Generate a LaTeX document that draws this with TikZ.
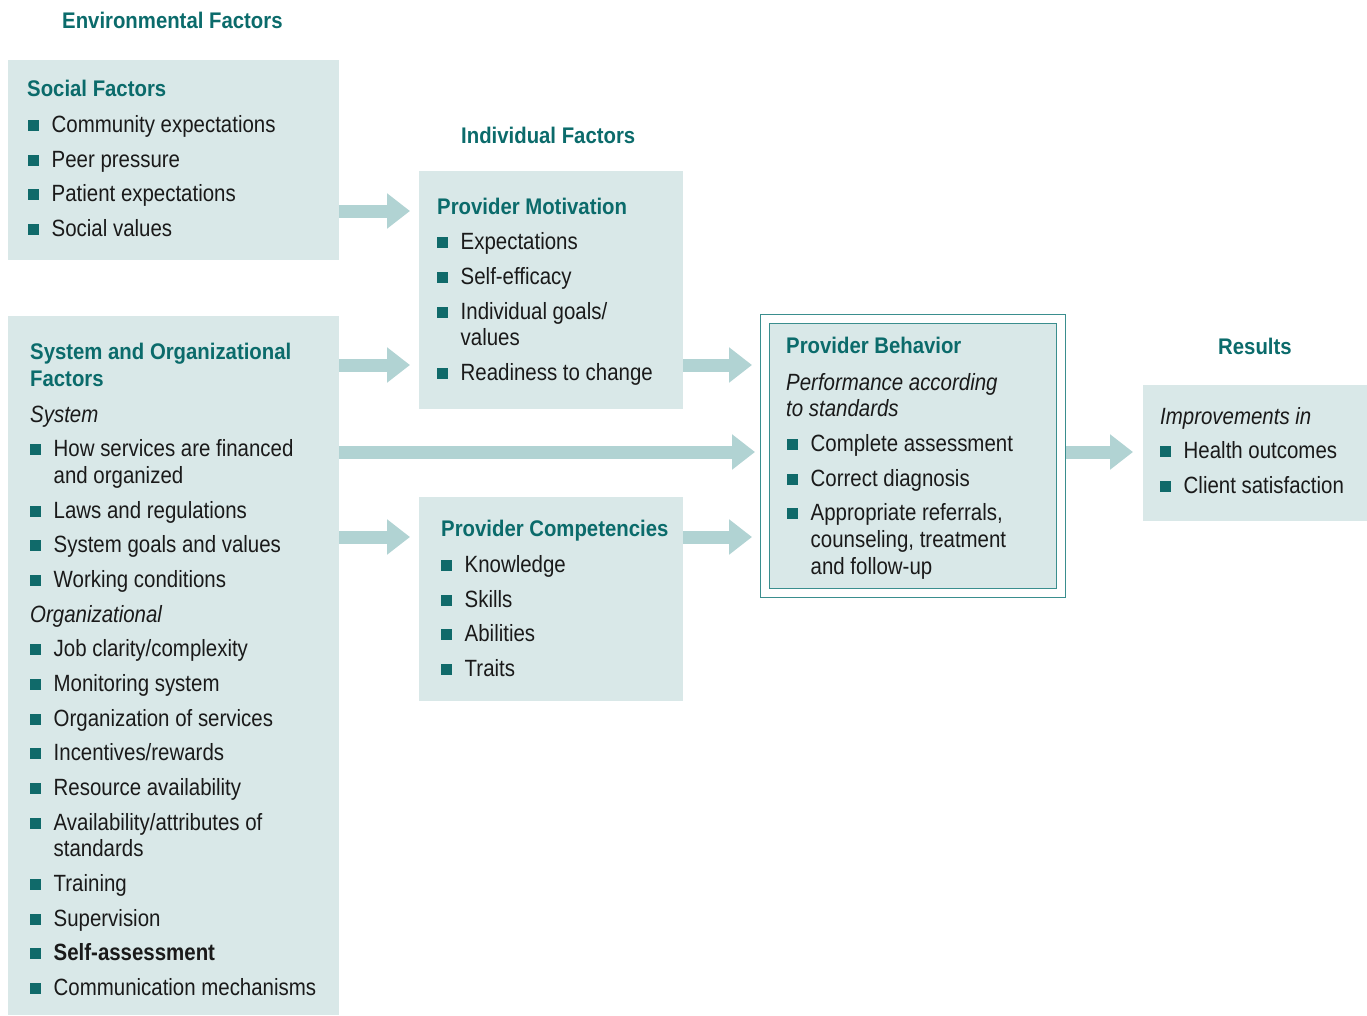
\documentclass[tikz,border=0pt]{standalone}
\usepackage{fontspec}
\setmainfont{Liberation Sans}[FakeStretch=0.87]
\newfontfamily\hdfont{Liberation Sans}[FakeStretch=0.9]
\usetikzlibrary{arrows.meta}
\definecolor{boxfill}{HTML}{D9E8E8}
\definecolor{headc}{HTML}{0B6B6B}
\definecolor{bulc}{HTML}{106A6A}
\definecolor{arrc}{HTML}{B1D3D3}
\definecolor{bordc}{HTML}{3A8E8E}
\definecolor{txtc}{HTML}{1A1A1A}
\tikzset{
 panel/.style={fill=boxfill, draw=none, inner sep=0pt, anchor=north west},
 sq/.style={fill=bulc, minimum size=11pt, inner sep=0pt, anchor=south west},
 txt/.style={inner sep=0pt, anchor=base west, yshift=1pt, text=txtc, font=\fontsize{23.5}{26.5}\selectfont},
 itx/.style={txt, font=\fontsize{23.5}{26.5}\selectfont\itshape},
 hd/.style={inner sep=0pt, anchor=base west, yshift=0.5pt, text=headc, font=\hdfont\bfseries\fontsize{22.6}{26.5}\selectfont},
 fat/.style={draw=arrc, line width=13pt, -{Triangle[length=23pt,width=34pt]}},
}
\newcommand\bitem[4]{\node[sq] (#1q) at (#2,{#3-2}) {}; \node[txt] (#1) at ({#2+23.5},#3) {#4};}
\begin{document}
\begin{tikzpicture}[x=1pt,y=-1pt]
\useasboundingbox (0,0) rectangle (1367,1015);
% panels
\node[panel, minimum width=331pt, minimum height=200pt] (social) at (8,60) {};
\node[panel, minimum width=331pt, minimum height=699pt] (system) at (8,316) {};
\node[panel, minimum width=264pt, minimum height=238pt] (motiv) at (419,171) {};
\node[panel, minimum width=264pt, minimum height=204pt] (comp) at (419,497) {};
\node[panel, fill=white, draw=bordc, line width=1.3pt, minimum width=305pt, minimum height=283pt] (behout) at (760,314) {};
\node[panel, draw=bordc, line width=1.3pt, minimum width=287pt, minimum height=265pt] (behin) at (769,323) {};
\node[panel, minimum width=224pt, minimum height=136pt] (results) at (1143,385) {};
% arrows
\coordinate (a1) at (410,211);
\coordinate (a2) at (410,365);
\coordinate (a3) at (755,452);
\coordinate (a4) at (410,537);
\coordinate (a5) at (752,365);
\coordinate (a6) at (752,537);
\coordinate (a7) at (1133,452);
\draw[fat] (social.east |- a1) -- (a1);
\draw[fat] (system.east |- a2) -- (a2);
\draw[fat] (system.east |- a3) -- (a3);
\draw[fat] (system.east |- a4) -- (a4);
\draw[fat] (motiv.east |- a5) -- (a5);
\draw[fat] (comp.east |- a6) -- (a6);
\draw[fat] (behout.east |- a7) -- (a7);
% titles
\node[hd] (tenv) at (62,29) {Environmental Factors};
\node[hd] (tind) at (461,144) {Individual Factors};
\node[hd] (tres) at (1218,355) {Results};
% social
\node[hd] (hsoc) at (27,97) {Social Factors};
\bitem{s1}{28}{133}{Community expectations}
\bitem{s2}{28}{168}{Peer pressure}
\bitem{s3}{28}{202}{Patient expectations}
\bitem{s4}{28}{237}{Social values}
% system
\node[hd] (hsys) at (30,360) {System and Organizational};
\node[hd] (hsys2) at (30,387) {Factors};
\node[itx] (isys) at (30,423) {System};
\bitem{y1}{30}{457}{How services are financed}
\node[txt] (y1b) at (53.5,484) {and organized};
\bitem{y2}{30}{519}{Laws and regulations}
\bitem{y3}{30}{553}{System goals and values}
\bitem{y4}{30}{588}{Working conditions}
\node[itx] (iorg) at (30,623) {Organizational};
\bitem{o1}{30}{657}{Job clarity/complexity}
\bitem{o2}{30}{692}{Monitoring system}
\bitem{o3}{30}{727}{Organization of services}
\bitem{o4}{30}{761}{Incentives/rewards}
\bitem{o5}{30}{796}{Resource availability}
\bitem{o6}{30}{831}{Availability/attributes of}
\node[txt] (o6b) at (53.5,857) {standards};
\bitem{o7}{30}{892}{Training}
\bitem{o8}{30}{927}{Supervision}
\bitem{o9}{30}{961}{\textbf{Self-assessment}}
\bitem{o10}{30}{996}{Communication mechanisms}
% motivation
\node[hd] (hmot) at (437,215) {Provider Motivation};
\bitem{m1}{437}{250}{Expectations}
\bitem{m2}{437}{285}{Self-efficacy}
\bitem{m3}{437}{320}{Individual goals/}
\node[txt] (m3b) at (460.5,346) {values};
\bitem{m4}{437}{381}{Readiness to change}
% competencies
\node[hd] (hcom) at (441,537) {Provider Competencies};
\bitem{c1}{441}{573}{Knowledge}
\bitem{c2}{441}{608}{Skills}
\bitem{c3}{441}{642}{Abilities}
\bitem{c4}{441}{677}{Traits}
% behavior
\node[hd] (hbeh) at (786,354) {Provider Behavior};
\node[itx] (ib1) at (786,391) {Performance according};
\node[itx] (ib2) at (786,417) {to standards};
\bitem{b1}{787}{452}{Complete assessment}
\bitem{b2}{787}{487}{Correct diagnosis}
\bitem{b3}{787}{521}{Appropriate referrals,}
\node[txt] (b3b) at (810.5,548) {counseling, treatment};
\node[txt] (b3c) at (810.5,575) {and follow-up};
% results
\node[itx] (ires) at (1160,425) {Improvements in};
\bitem{r1}{1160}{459}{Health outcomes}
\bitem{r2}{1160}{494}{Client satisfaction}
\end{tikzpicture}
\end{document}
